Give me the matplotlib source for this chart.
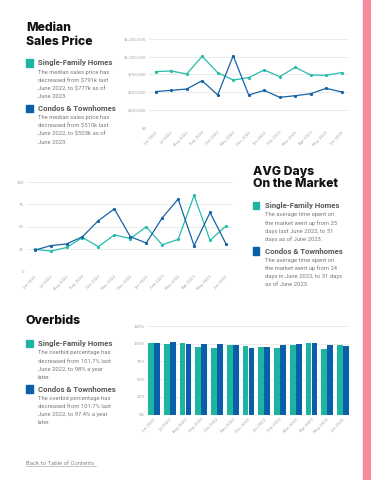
import matplotlib
matplotlib.use("Agg")
import matplotlib.pyplot as plt
from matplotlib.patches import Rectangle
from matplotlib.ticker import FuncFormatter
import numpy as np

months = ["Jun 2022", "Jul 2022", "Aug 2022", "Sep 2022", "Oct 2022", "Nov 2022",
          "Dec 2022", "Jan 2023", "Feb 2023", "Mar 2023", "Apr 2023", "May 2023", "Jun 2023"]

# median sales price ($)
price_sfh = [791000, 799000, 757000, 1006000, 775000, 672000, 705000,
             813000, 719000, 851000, 742000, 738000, 777000]
price_condo = [510000, 526000, 545000, 663000, 461000, 1015000, 461000,
               526000, 428000, 451000, 479000, 555000, 503000]

# average days on market
dom_sfh = [25, 23, 27, 38, 28, 41, 37, 50, 30, 36, 85, 35, 51]
dom_condo = [24, 29, 31, 39, 57, 70, 39, 32, 60, 81, 29, 66, 31]

# overbid percentage
ob_sfh = [101.7, 100.0, 100.5, 95.4, 94.5, 98.7, 96.8, 95.0, 94.0, 97.7, 101.0, 92.6, 98.0]
ob_condo = [101.7, 102.4, 99.6, 99.6, 99.6, 97.7, 94.5, 95.0, 98.2, 99.2, 101.0, 97.7, 97.4]

TEAL = "#1db5a2"
TEAL_LINE = "#27bcab"
BLUE = "#0b5ea8"
BLUE_LINE = "#1663a6"
GRID = "#e8e8e8"
TICK = "#a0a0a0"
TITLE_FONT = ["Inter", "DejaVu Sans"]

W, H = 371, 480
fig = plt.figure(figsize=(W / 100, H / 100), dpi=100)
fig.patch.set_facecolor("white")


def axes_px(x0, y0, x1, y1):
    return fig.add_axes([x0 / W, 1 - y1 / H, (x1 - x0) / W, (y1 - y0) / H])


def style(ax, yticks, fmt):
    for s in ax.spines.values():
        s.set_visible(False)
    ax.set_yticks(yticks)
    ax.yaxis.set_major_formatter(FuncFormatter(fmt))
    ax.grid(axis="y", color=GRID, linewidth=0.6)
    ax.set_axisbelow(True)
    ax.set_xticks(np.arange(len(months)))
    ax.set_xticklabels(months, rotation=45, ha="right", rotation_mode="anchor")
    ax.tick_params(length=0, labelsize=2.8, colors=TICK, pad=2)


def txt(x, y, s, **kw):
    fig.text(x / W, 1 - y / H, s, va="center", ha="left", **kw)


def title(x, y, s):
    txt(x, y, s, family=TITLE_FONT, fontweight="heavy", fontsize=8.8, color="#111111")


def legend_block(x, y_head, lines, color, label):
    fig.patches.append(Rectangle((x / W, 1 - (y_head + 3.7) / H), 6.5 / W, 7.4 / H,
                                 transform=fig.transFigure, color=color))
    txt(x + 12, y_head, label, family="Roboto", fontweight="bold", fontsize=5.6, color="#585858")
    for i, l in enumerate(lines):
        txt(x + 12, y_head + 9.2 + i * 8.2, l, family="Roboto", fontsize=4.25, color="#7a7a7a")


x = np.arange(len(months))

# --- Median sales price ---
ax1 = axes_px(149, 39, 349, 127.7)
ax1.plot(x, price_sfh, color=TEAL_LINE, lw=0.9, marker="o", ms=1.3)
ax1.plot(x, price_condo, color=BLUE_LINE, lw=0.9, marker="o", ms=1.3)
ax1.set_ylim(0, 1250000)
ax1.set_xlim(-0.43, 12.47)
style(ax1, [0, 250000, 500000, 750000, 1000000, 1250000], lambda v, p: f"${v:,.0f}")

title(26, 28, "Median")
title(26, 42, "Sales Price")
legend_block(26, 63, ["The median sales price has", "decreased from $791k last",
                      "June 2022, to $777k as of", "June 2023."], TEAL, "Single-Family Homes")
legend_block(26, 108.3, ["The median sales price has", "decreased from $510k last",
                         "June 2022, to $503k as of", "June 2023."], BLUE, "Condos & Townhomes")

# --- Avg days on market ---
ax2 = axes_px(26.7, 182, 233, 271.7)
ax2.plot(x, dom_sfh, color=TEAL_LINE, lw=0.9, marker="o", ms=1.3)
ax2.plot(x, dom_condo, color=BLUE_LINE, lw=0.9, marker="o", ms=1.3)
ax2.set_ylim(0, 100)
ax2.set_xlim(-0.5, 12.44)
style(ax2, [0, 25, 50, 75, 100], lambda v, p: f"{v:.0f}")

title(252.7, 172, "AVG Days")
title(252.7, 184, "On the Market")
legend_block(252.7, 205.7, ["The average time spent on", "the market went up from 25",
                            "days last June 2022, to 51", "days as of June 2023."],
             TEAL, "Single-Family Homes")
legend_block(252.7, 251, ["The average time spent on", "the market went up from 24",
                          "days in June 2022, to 31 days", "as of June 2023."],
             BLUE, "Condos & Townhomes")

# --- Overbids ---
ax3 = axes_px(147.7, 326, 349.3, 414.7)
bw = 0.36
ax3.bar(x - 0.19, ob_sfh, width=bw, color=TEAL)
ax3.bar(x + 0.19, ob_condo, width=bw, color=BLUE)
ax3.set_ylim(0, 125)
ax3.set_xlim(-0.4, 12.4)
style(ax3, [0, 25, 50, 75, 100, 125], lambda v, p: f"{v:.0f}%")

title(26, 321.5, "Overbids")
legend_block(26, 343.7, ["The overbid percentage has", "decreased from 101.7% last",
                         "June 2022, to 98% a year", "later."], TEAL, "Single-Family Homes")
legend_block(26, 389, ["The overbid percentage has", "decreased from 101.7% last",
                       "June 2022, to 97.4% a year", "later."], BLUE, "Condos & Townhomes")

fig.text(26 / W, 1 - 463.3 / H, "Back to Table of Contents", va="center", ha="left",
         family="Roboto", fontsize=4.2, color="#8a8a8a")
fig.lines.append(plt.Line2D([26 / W, 95.7 / W], [1 - 466.3 / H] * 2, transform=fig.transFigure,
                            color="#9a9a9a", lw=0.4))

# pink page edge
fig.patches.append(Rectangle((363.3 / W, 0), (W - 363.3) / W, 1, transform=fig.transFigure,
                             color="#f38b9d"))

fig.savefig("out.png", dpi=100)
